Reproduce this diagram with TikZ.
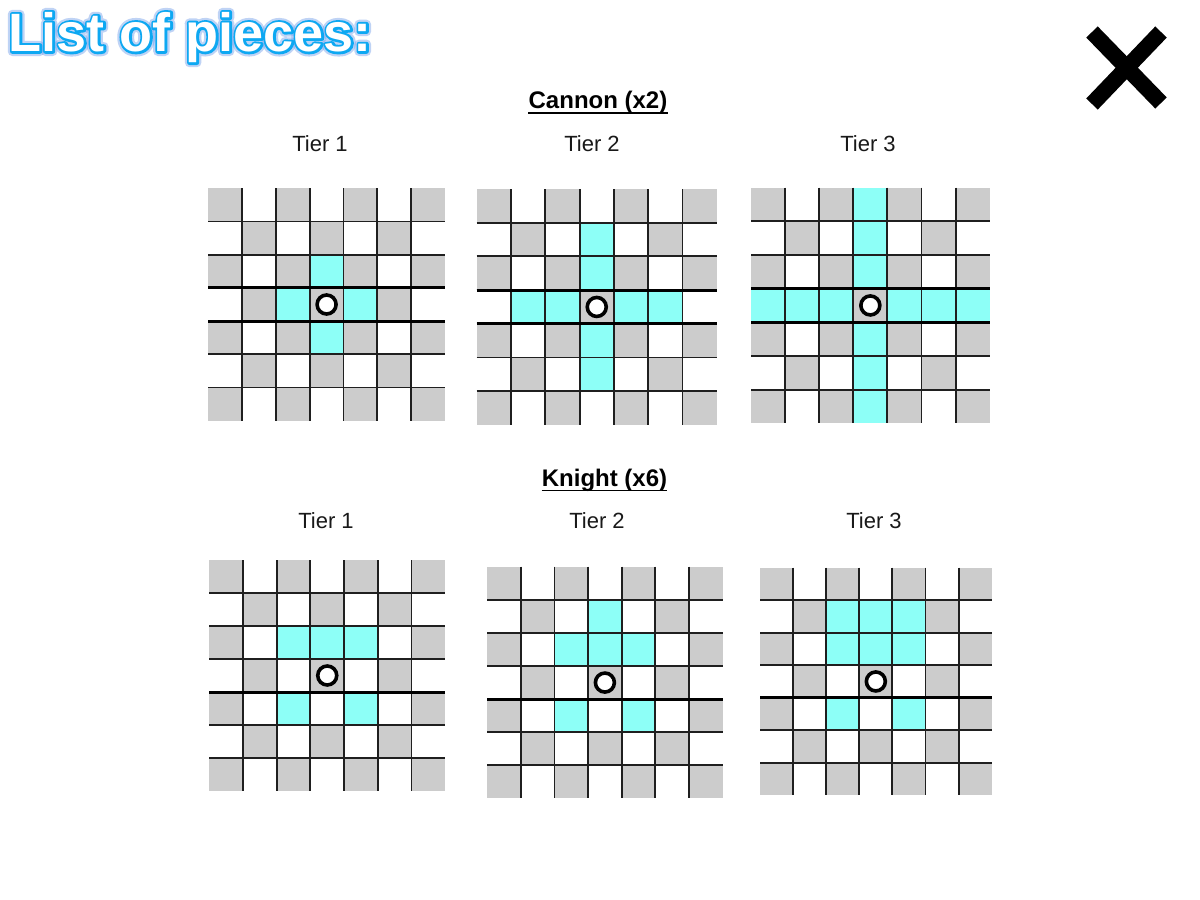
\documentclass[tikz,border=0pt]{standalone}
\usepackage{fontspec}
\setmainfont{Liberation Sans}
\usetikzlibrary{calc}
\definecolor{cellgray}{RGB}{204,204,204}
\definecolor{cellcyan}{RGB}{141,255,247}
\tikzset{
  gridline/.style={line width=1.9pt, draw=black!88},
  thickline/.style={line width=3pt, draw=black},
  piece/.style={circle, draw=black, line width=3.6pt, fill=white, minimum size=19pt, inner sep=0pt},
  tierlabel/.style={inner sep=0pt, font=\fontsize{22}{24}\selectfont, text=black!90},
  header/.style={inner sep=0pt, font=\fontsize{24}{26}\selectfont\bfseries, text=black},
  uline/.style={line width=1.8pt, draw=black},
  xmark/.style={line width=16pt, draw=black, line cap=butt},
  titletext/.style={inner sep=0pt, anchor=base west, text=white, font=\fontsize{54}{58}\selectfont\bfseries}
}
% stroked text: #1 = stroke width, #2 = stroke colour (pdf RGB), #3 = text
\newcommand\strokedtext[3]{%
  \special{pdf:literal direct 2 Tr #1 w 1 j #2 RG #2 rg}#3\special{pdf:literal direct 0 Tr}}
\newcommand\drawboard[7]{%
  \begin{scope}[shift={(#2,#3)}, x=#4pt, y=-#5pt]
    \foreach \r in {0,...,6}{
      \foreach \c in {0,...,6}{
        \pgfmathtruncatemacro\parity{mod(\r+\c,2)}
        \ifnum\parity=0 \fill[cellgray] (\c,\r) rectangle ++(1,1);\fi
      }
    }
    \foreach \c/\r in {#6}{\fill[cellcyan] (\c,\r) rectangle ++(1,1);}
    \foreach \k in {1,...,6}{
      \draw[gridline] (\k,0) -- (\k,7);
      \draw[gridline] (0,\k) -- (7,\k);
    }
    \foreach \k in {#7}{\draw[thickline] (0,\k) -- (7,\k);}
    \node[piece] (#1) at (3.5,3.5) {};
  \end{scope}
}
\begin{document}
\begin{tikzpicture}[x=1pt, y=-1pt]
\useasboundingbox (0,0) rectangle (1200,900);
\fill[white] (0,0) rectangle (1200,900);

% title: soft glow, blue outline, white fill
\coordinate (torg) at (8.5,51.5);
\node[titletext, opacity=0.45] (titleglow) at (torg) {\strokedtext{9}{0.45 0.62 0.92}{List of pieces:}};
\node[titletext] (titleedge) at (torg) {\strokedtext{4.6}{0.05 0.66 0.95}{List of pieces:}};
\node[titletext] (title) at (torg) {List of pieces:};

% close mark
\coordinate (xtl) at (1092,32);
\coordinate (xbr) at (1161,103);
\coordinate (xtr) at (1161,32);
\coordinate (xbl) at (1092,104);
\draw[xmark] (xtl) -- (xbr);
\draw[xmark] (xtr) -- (xbl);

% headers
\node[header, anchor=base] (cannon) at (598,108.3) {Cannon (x2)};
\draw[uline] ([yshift=-4.4pt]cannon.base west) -- ([yshift=-4.4pt]cannon.base east);
\node[header, anchor=base] (knight) at (604.5,486) {Knight (x6)};
\draw[uline] ([yshift=-4.4pt]knight.base west) -- ([yshift=-4.4pt]knight.base east);

% tier labels
\node[tierlabel, anchor=base] (ct1) at (320,151.5) {Tier 1};
\node[tierlabel, anchor=base] (ct2) at (592,151.5) {Tier 2};
\node[tierlabel, anchor=base] (ct3) at (868,151.5) {Tier 3};
\node[tierlabel, anchor=base] (kt1) at (326,528) {Tier 1};
\node[tierlabel, anchor=base] (kt2) at (597,528) {Tier 2};
\node[tierlabel, anchor=base] (kt3) at (874,528) {Tier 3};

% boards
\drawboard{c1}{208.3}{188.3}{33.8}{33.2}{3/2,2/3,4/3,3/4}{3,4}
\drawboard{c2}{476.7}{189}{34.3}{33.7}{3/1,3/2,3/4,3/5,1/3,2/3,4/3,5/3}{3,4}
\drawboard{c3}{751}{187.5}{34.1}{33.7}{3/0,3/1,3/2,3/4,3/5,3/6,0/3,1/3,2/3,4/3,5/3,6/3}{3,4}
\drawboard{k1}{209.3}{560}{33.7}{33.0}{2/2,3/2,4/2,2/4,4/4}{4}
\drawboard{k2}{487.3}{566.7}{33.6}{33.1}{3/1,2/2,3/2,4/2,2/4,4/4}{4}
\drawboard{k3}{760}{567.7}{33.1}{32.5}{2/1,3/1,4/1,2/2,3/2,4/2,2/4,4/4}{4}
\end{tikzpicture}
\end{document}
